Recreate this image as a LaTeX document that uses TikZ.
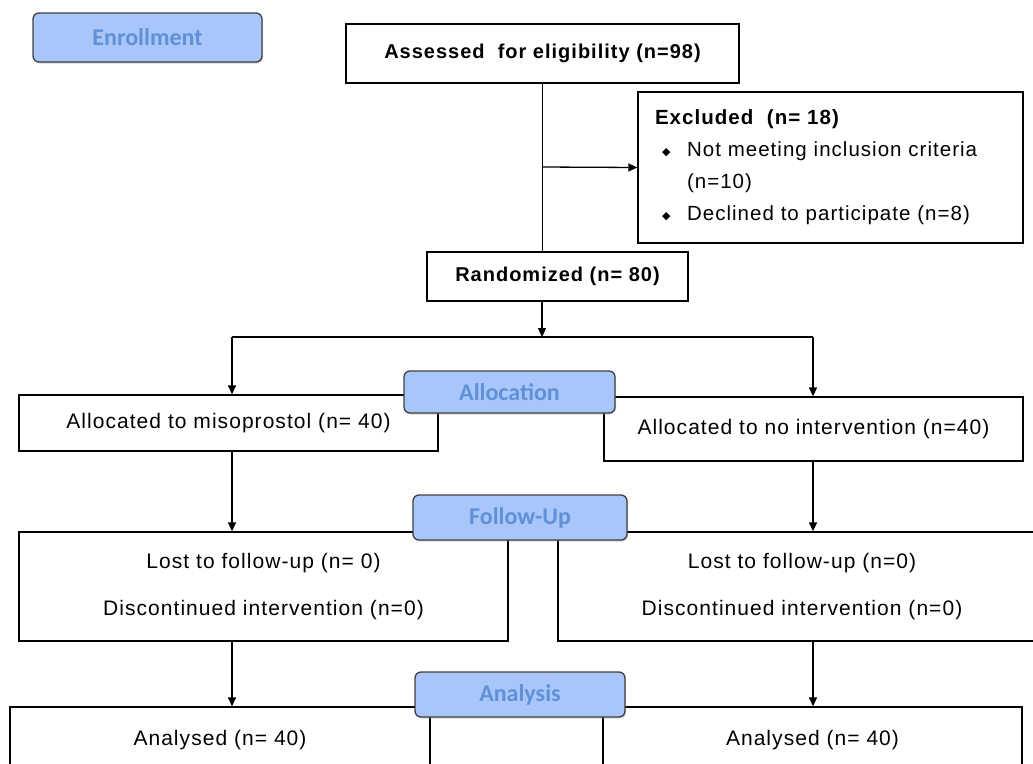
\documentclass[tikz,border=0pt]{standalone}
\usepackage{fontspec}
\setmainfont{Liberation Sans}[LetterSpace=5]
\newfontfamily\labfont{Carlito}
\newfontfamily\symfont{DejaVu Sans}
\usetikzlibrary{arrows.meta,positioning,shadows}
\definecolor{labfill}{RGB}{168,198,250}
\definecolor{labtext}{RGB}{96,144,214}
\definecolor{labdraw}{RGB}{64,64,64}
\newcommand{\bul}{\raisebox{1.5pt}{\symfont\fontsize{11}{11}\selectfont ◆}}

\begin{document}
\begin{tikzpicture}[x=1pt,y=-1pt,>={Triangle[length=9pt,width=8pt]},
 b/.style={draw,line width=1.3pt,inner sep=0pt,align=center,font=\fontsize{21}{24}\selectfont},
 bb/.style={b,font=\bfseries\fontsize{20}{24}\selectfont},
 lab/.style={draw=labdraw,line width=1.3pt,fill=labfill,rounded corners=6pt,inner sep=0pt,text=labtext,
  font=\labfont\bfseries\fontsize{24}{24}\selectfont,drop shadow={shadow xshift=1pt,shadow yshift=-1.5pt,opacity=0.35}},
 a/.style={->,line width=1.3pt},l/.style={line width=1.3pt}]
\useasboundingbox (0,0) rectangle (1033,763);
\clip (0,0) rectangle (1033,763);
% boxes
\node[bb,minimum width=393pt,minimum height=59pt] (assess) at (542.5,53.5) {Assessed\ \ for eligibility (n=98)};
\node[b,align=left,text width=351pt,inner xsep=17pt,minimum height=151pt,font=\fontsize{20.5}{32}\selectfont] (excl) at (830.5,167.5)
 {\textbf{Excluded\ \ (n= 18)}\\
 \hspace*{7pt}\makebox[25pt][l]{\bul}Not meeting inclusion criteria\\
 \hspace*{32pt}(n=10)\\
 \hspace*{7pt}\makebox[25pt][l]{\bul}Declined to participate (n=8)};
\node[bb,minimum width=261pt,minimum height=49pt] (rand) at (557.5,276.5) {Randomized (n= 80)};
\node[b,minimum width=419pt,minimum height=56pt] (alloc1) at (228.5,423) {Allocated to misoprostol (n= 40)};
\node[b,minimum width=419pt,minimum height=64pt] (alloc2) at (813.5,429) {Allocated to no intervention (n=40)};
\node[b,minimum width=489pt,minimum height=109pt,font=\fontsize{21}{47}\selectfont] (fu1) at (263.5,586.5)
 {Lost to follow-up (n= 0)\\Discontinued intervention (n=0)};
\node[b,minimum width=488pt,minimum height=109pt,font=\fontsize{21}{47}\selectfont] (fu2) at (802,586.5)
 {Lost to follow-up (n=0)\\Discontinued intervention (n=0)};
\node[b,minimum width=420pt,minimum height=66pt] (an1) at (220,740) {Analysed (n= 40)};
\node[b,minimum width=419pt,minimum height=66pt] (an2) at (812.5,740) {Analysed (n= 40)};
% connectors
\coordinate (exit) at (542,167);
\coordinate (split) at (542,337);
\coordinate (splitl) at (232,337);
\coordinate (splitr) at (813,337);
\draw[l] (assess.south) -- (assess.south |- rand.north);
\draw[a] (exit) -- (excl.west);
\draw[a] (split |- rand.south) -- (split);
\draw[l] (splitl) -- (splitr);
\draw[a] (splitl) -- (splitl |- alloc1.north);
\draw[a] (splitr) -- (splitr |- alloc2.north);
\draw[a] (splitl |- alloc1.south) -- (splitl |- fu1.north);
\draw[a] (splitr |- alloc2.south) -- (splitr |- fu2.north);
\draw[a] (splitl |- fu1.south) -- (splitl |- an1.north);
\draw[a] (splitr |- fu2.south) -- (splitr |- an2.north);
% stage labels
\node[lab,minimum width=229pt,minimum height=49pt] (enrol) at (147.5,37.5) {Enrollment};
\node[lab,minimum width=211pt,minimum height=42pt] (allocl) at (509.5,392) {Allocation};
\node[lab,minimum width=214pt,minimum height=45pt] (ful) at (520,517.5) {Follow-Up};
\node[lab,minimum width=210pt,minimum height=45pt] (anl) at (520,694.5) {Analysis};
\end{tikzpicture}
\end{document}
